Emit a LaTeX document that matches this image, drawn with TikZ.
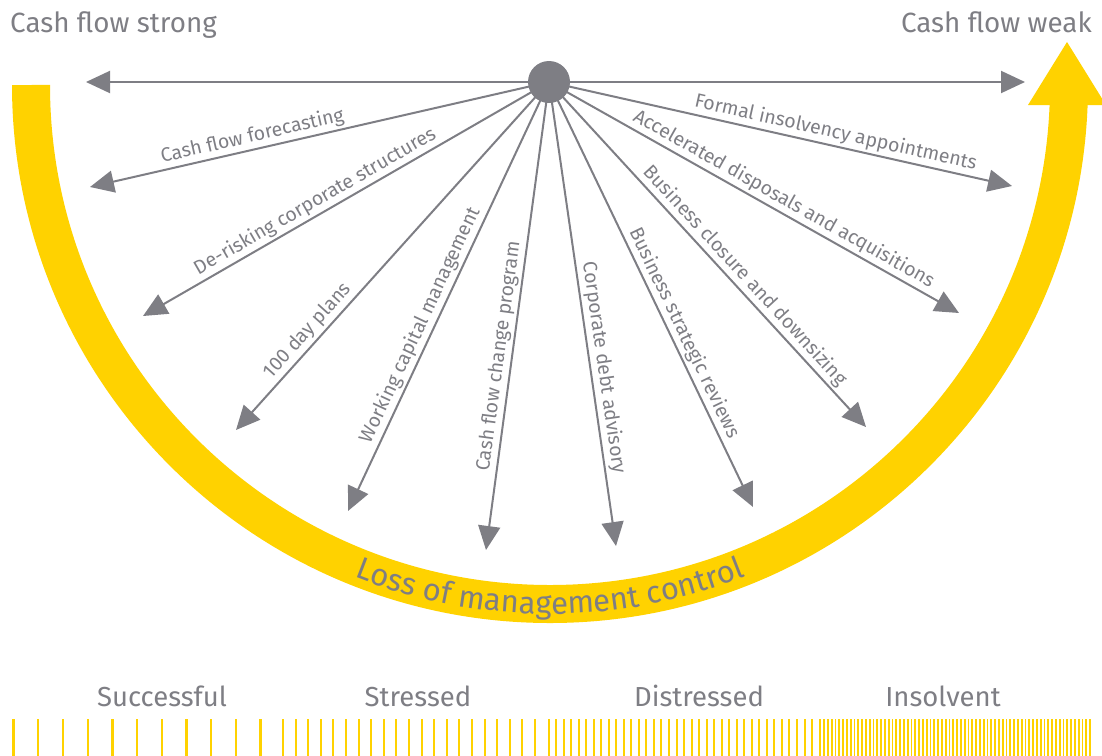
\documentclass[tikz,border=0pt]{standalone}
\usepackage{fontspec}
\setmainfont{Fira Sans}
\usetikzlibrary{arrows.meta,decorations.text}
\definecolor{eygray}{RGB}{126,126,132}
\definecolor{eyyellow}{RGB}{255,210,0}

\begin{document}
\begin{tikzpicture}[x=1pt,y=1pt,
  ray/.style={draw=eygray, line width=2pt, -{Triangle[length=24pt,width=22pt]}},
  raylabel/.style={sloped, above, inner sep=2.5pt, text=eygray, font=\fontsize{19.5}{22}\selectfont},
  heading/.style={text=eygray, font=\fontsize{27.8}{32}\selectfont, inner sep=0pt},
  stage/.style={text=eygray, font=\fontsize{27.5}{32}\selectfont, inner sep=0pt, anchor=base},
  hubdot/.style={circle, fill=eygray, minimum size=42pt, inner sep=0pt},
  tickmark/.style={draw=eyyellow, line width=#1},
]
\useasboundingbox (0,0) rectangle (1102,-755);

% big yellow arc with its upward arrow head
\draw[eyyellow, line width=38pt] (31,-85) arc[start angle=180, end angle=358.5, radius=519pt];
\fill[eyyellow] (1028,-105) -- (1106,-105) -- (1067,-42) -- cycle;

% caption running along the arc
\path[decorate, decoration={text along path, text align=center,
  text={|\fontsize{31}{36}\selectfont\color{eygray}|Loss of management control}}]
  (21,-85) arc[start angle=180, end angle=360, radius=529pt];

% headings
\node[heading, anchor=base west] (strong) at (10,-32) {Cash flow strong};
\node[heading, anchor=base east] (weak) at (1092,-32) {Cash flow weak};

% hub and ray end points
\coordinate (hubc) at (549,-82);
\coordinate (eL)  at (86,-82);
\coordinate (eR)  at (1025,-82);
\coordinate (e1)  at (90,-187);
\coordinate (e2)  at (143,-316);
\coordinate (e3)  at (236,-430);
\coordinate (e4)  at (348,-511);
\coordinate (e5)  at (486,-550);
\coordinate (e6)  at (616,-546);
\coordinate (e7)  at (753,-507);
\coordinate (e8)  at (866,-427);
\coordinate (e9)  at (959,-313);
\coordinate (e10) at (1012,-186);

\draw[ray] (hubc) -- (eL);
\draw[ray] (hubc) -- (eR);
\draw[ray] (hubc) -- (e1)  node[raylabel, pos=0.64]  {Cash flow forecasting};
\draw[ray] (hubc) -- (e2)  node[raylabel, pos=0.56]  {De-risking corporate structures};
\draw[ray] (hubc) -- (e3)  node[raylabel, pos=0.74]  {100 day plans};
\draw[ray] (hubc) -- (e4)  node[raylabel, pos=0.58]  {Working capital management};
\draw[ray] (hubc) -- (e5)  node[raylabel, pos=0.59]  {Cash flow change program};
\draw[ray] (hubc) -- (e6)  node[raylabel, pos=0.62]  {Corporate debt advisory};
\draw[ray] (hubc) -- (e7)  node[raylabel, pos=0.605] {Business strategic reviews};
\draw[ray] (hubc) -- (e8)  node[raylabel, pos=0.588] {Business closure and downsizing};
\draw[ray] (hubc) -- (e9)  node[raylabel, pos=0.557] {Accelerated disposals and acquisitions};
\draw[ray] (hubc) -- (e10) node[raylabel, pos=0.613] {Formal insolvency appointments};

\node[hubdot] (hub) at (hubc) {};

% stage names
\node[stage] (s1) at (162,-706) {Successful};
\node[stage] (s2) at (418,-706) {Stressed};
\node[stage] (s3) at (699,-706) {Distressed};
\node[stage] (s4) at (943,-706) {Insolvent};

% tick scale, denser towards insolvency
\foreach \i in {0,...,10} \draw[tickmark=2.3pt] ({13.6+24.7*\i},-719) -- ++(0,-40);
\foreach \i in {0,...,20} \draw[tickmark=2.1pt] ({283+12.6*\i},-719) -- ++(0,-40);
\foreach \i in {0,...,36} \draw[tickmark=2pt]   ({548.5+7.53*\i},-719) -- ++(0,-40);
\foreach \i in {0,...,70} \draw[tickmark=1.8pt] ({824+3.8*\i},-719) -- ++(0,-40);
\end{tikzpicture}
\end{document}
